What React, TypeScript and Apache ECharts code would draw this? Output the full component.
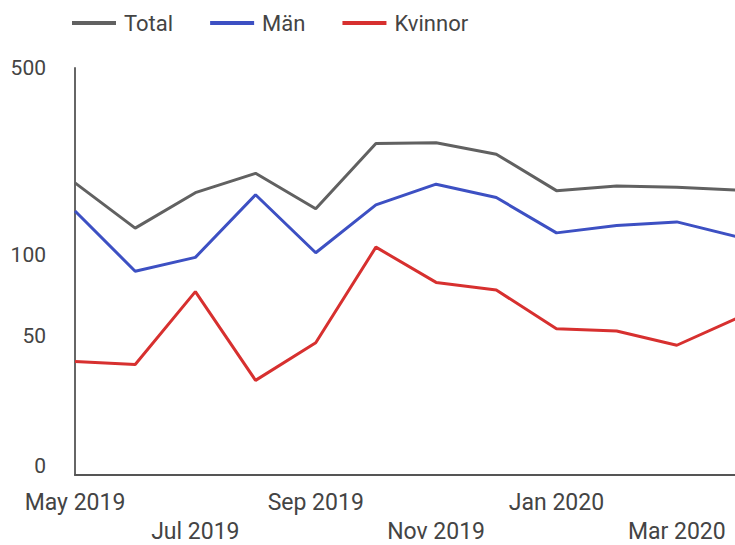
import React, { useEffect, useRef } from 'react';
import * as echarts from 'echarts';

const months = ['May 2019', 'Jun 2019', 'Jul 2019', 'Aug 2019', 'Sep 2019', 'Oct 2019', 'Nov 2019', 'Dec 2019', 'Jan 2020', 'Feb 2020', 'Mar 2020', 'Apr 2020'];
const total = [186, 126, 171, 202, 149, 261, 263, 238, 174, 181, 179, 175];
const man = [146, 87, 98, 168, 102, 154, 184, 164, 121, 129, 133, 117];
const kvinnor = [40, 39, 73, 34, 47, 107, 79, 74, 53, 52, 46, 58];
const yTickValues = [50, 100, 500];
const Y_MIN = 15.06;
const Y_MAX = 500;

const FONT = 'Roboto';
const LABEL_COLOR = '#444444';

export default function App() {
  const ref = useRef<HTMLDivElement>(null);
  useEffect(() => {
    if (!ref.current) return;
    const chart = echarts.init(ref.current, null, { renderer: 'svg' });
    chart.setOption({
      animation: false,
      backgroundColor: '#ffffff',
      textStyle: { fontFamily: FONT },
      legend: {
        left: 67,
        top: 7,
        icon: 'rect',
        itemWidth: 44,
        itemHeight: 4,
        itemGap: 37,
        textStyle: { fontFamily: FONT, fontSize: 22, color: LABEL_COLOR, padding: [0, 0, 0, 3] },
        data: ['Total', 'Män', 'Kvinnor'],
      },
      grid: {
        left: 75,
        right: -2,
        top: 68,
        bottom: 70,
        containLabel: false,
        outerBoundsMode: 'none',
      },
      xAxis: {
        type: 'category',
        data: months,
        boundaryGap: false,
        axisLine: { show: true, lineStyle: { color: '#555555', width: 2 } },
        axisTick: { show: false },
        splitLine: { show: false },
        axisLabel: {
          interval: 1,
          margin: 16,
          fontFamily: FONT,
          fontSize: 23,
          lineHeight: 22,
          color: LABEL_COLOR,
          formatter: (value: string, index: number) => (index % 4 === 2 ? '{sp| }\n{up|' + value + '}' : '{up|' + value + '}'),
          rich: {
            up: { fontFamily: FONT, fontSize: 23, lineHeight: 22, color: LABEL_COLOR },
            sp: { fontFamily: FONT, fontSize: 2, lineHeight: 29, color: LABEL_COLOR },
          },
        },
      },
      yAxis: {
        type: 'log',
        logBase: 10,
        min: Y_MIN,
        max: Y_MAX,
        axisLine: { show: true, lineStyle: { color: '#666666', width: 2 } },
        axisTick: { show: false },
        splitLine: { show: false },
        minorSplitLine: { show: false },
        axisLabel: {
          customValues: [Y_MIN * 1.0001, ...yTickValues],
          margin: 29,
          fontFamily: FONT,
          fontSize: 21,
          color: LABEL_COLOR,
          formatter: (v: number) => (v < 20 ? '{z|0}' : String(Math.round(v))),
          rich: {
            z: { fontFamily: FONT, fontSize: 21, color: LABEL_COLOR, padding: [0, 0, 18, 0] },
          },
        },
      },
      series: [
        { name: 'Total', type: 'line', data: total, symbol: 'none', lineStyle: { width: 3, color: '#616161' }, itemStyle: { color: '#616161' } },
        { name: 'Män', type: 'line', data: man, symbol: 'none', lineStyle: { width: 3, color: '#3d50c3' }, itemStyle: { color: '#3d50c3' } },
        { name: 'Kvinnor', type: 'line', data: kvinnor, symbol: 'none', lineStyle: { width: 3, color: '#d7302f' }, itemStyle: { color: '#d7302f' } },
      ],
    });
    return () => chart.dispose();
  }, []);
  return <div ref={ref} style={{ width: 735, height: 545, position: 'absolute', left: 0, top: 0 }} />;
}
